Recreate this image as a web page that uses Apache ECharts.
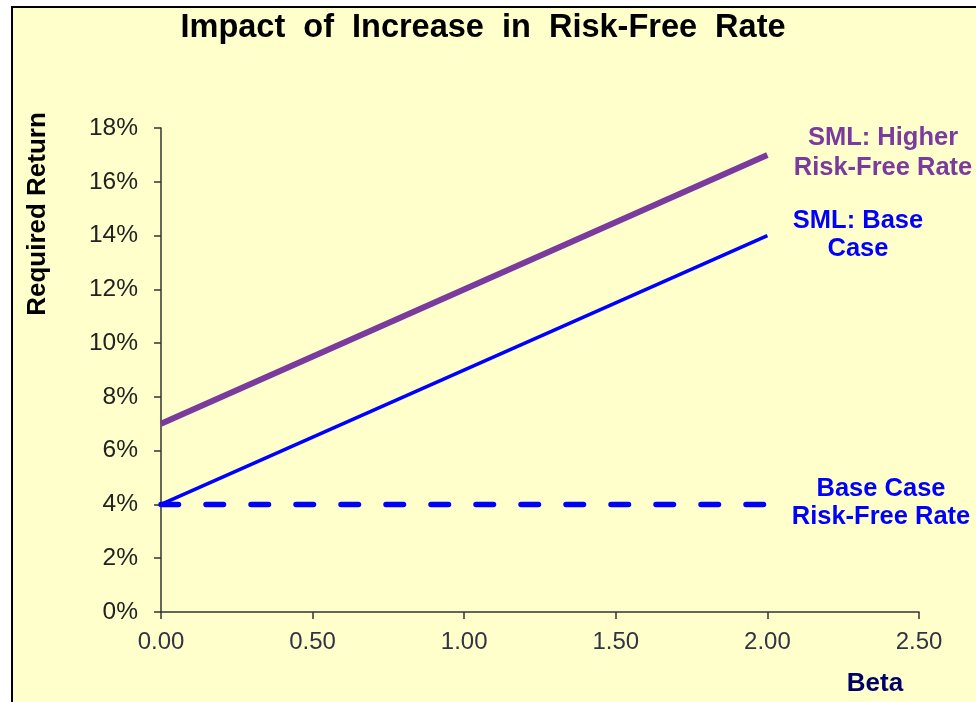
<!DOCTYPE html>
<html>
<head>
<meta charset="utf-8">
<script src="https://cdn.jsdelivr.net/npm/echarts@6/dist/echarts.min.js"></script>
<style>
html,body{margin:0;padding:0;background:#ffffff;}
#chart{width:976px;height:702px;}
</style>
</head>
<body>
<div id="chart"></div>
<script>
const betas = [0, 2];
const smlBase = [4, 14];
const smlHigher = [7, 17];
const riskFreeBase = [4, 4];
const xTicks = [0, 0.5, 1, 1.5, 2, 2.5];
const yTicks = [0, 2, 4, 6, 8, 10, 12, 14, 16, 18];

const purple = '#7B3A9E';
const blue = '#0000FF';
const FONT = '"Liberation Sans", Arial, sans-serif';

function pairs(xs, ys) { return xs.map((x, i) => [x, ys[i]]); }

const chart = echarts.init(document.getElementById('chart'), null, {renderer: 'canvas'});
chart.setOption({
  animation: false,
  backgroundColor: '#ffffff',
  grid: {left: 161, right: 57, top: 128, bottom: 90, containLabel: false},
  xAxis: {
    type: 'value', min: xTicks[0], max: xTicks[xTicks.length - 1], interval: 0.5,
    axisLine: {show: true, lineStyle: {color: '#333333', width: 1.5}},
    axisTick: {show: true, length: 7, lineStyle: {color: '#333333', width: 1.5}},
    splitLine: {show: false},
    axisLabel: {color: '#333344', fontFamily: FONT, fontSize: 24, margin: 18,
      formatter: v => v.toFixed(2)}
  },
  yAxis: {
    type: 'value', min: yTicks[0], max: yTicks[yTicks.length - 1], interval: 2,
    axisLine: {show: true, lineStyle: {color: '#333333', width: 1.5}},
    axisTick: {show: true, length: 7, lineStyle: {color: '#333333', width: 1.5}},
    splitLine: {show: false},
    axisLabel: {color: '#222222', fontFamily: FONT, fontSize: 24.5, margin: 23,
      formatter: v => v + '%'}
  },
  series: [
    {type: 'line', name: 'Base Case Risk-Free Rate', data: pairs(betas, riskFreeBase),
     symbol: 'none', lineStyle: {color: blue, width: 5.5, type: [17.5, 27.5], cap: 'round'}, z: 2},
    {type: 'line', name: 'SML: Base Case', data: pairs(betas, smlBase),
     symbol: 'none', lineStyle: {color: blue, width: 3.5}, z: 3},
    {type: 'line', name: 'SML: Higher Risk-Free Rate', data: pairs(betas, smlHigher),
     symbol: 'none', lineStyle: {color: purple, width: 6}, z: 4}
  ],
  graphic: [
    {type: 'rect', z: -10, shape: {x: 12, y: 7, width: 1000, height: 720},
     style: {fill: '#FFFFCC', stroke: '#000000', lineWidth: 2}},
    {type: 'text', x: 483, y: 28, style: {text: 'Impact  of  Increase  in  Risk-Free  Rate', fill: '#000000',
      font: 'bold 32.5px ' + FONT, textAlign: 'center', textVerticalAlign: 'middle'}},
    {type: 'text', x: 38, y: 214, rotation: Math.PI / 2, style: {text: 'Required Return', fill: '#000000',
      font: 'bold 26px ' + FONT, textAlign: 'center', textVerticalAlign: 'middle'}},
    {type: 'text', x: 883, y: 153, style: {text: 'SML: Higher\nRisk-Free Rate', fill: purple,
      font: 'bold 25.5px ' + FONT, textAlign: 'center', textVerticalAlign: 'middle', lineHeight: 30}},
    {type: 'text', x: 858, y: 235, style: {text: 'SML: Base\nCase', fill: blue,
      font: 'bold 25.5px ' + FONT, textAlign: 'center', textVerticalAlign: 'middle', lineHeight: 28}},
    {type: 'text', x: 881, y: 503, style: {text: 'Base Case\nRisk-Free Rate', fill: blue,
      font: 'bold 25.5px ' + FONT, textAlign: 'center', textVerticalAlign: 'middle', lineHeight: 28}},
    {type: 'text', x: 875, y: 684, style: {text: 'Beta', fill: '#000066',
      font: 'bold 26px ' + FONT, textAlign: 'center', textVerticalAlign: 'middle'}}
  ]
});
</script>
</body>
</html>
